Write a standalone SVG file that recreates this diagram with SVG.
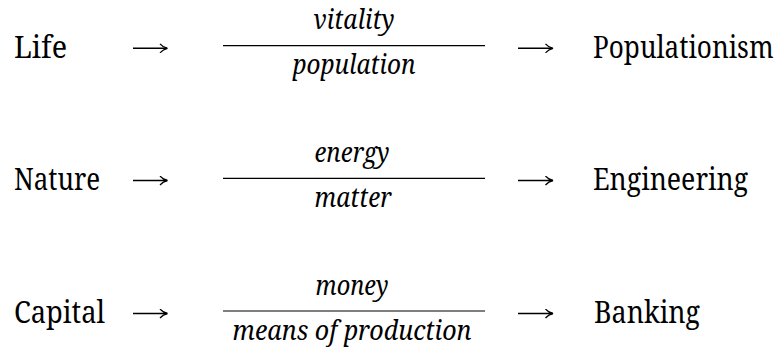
<svg xmlns="http://www.w3.org/2000/svg" width="783" height="351" viewBox="0 0 783 351">
<defs>
<marker id="ah" viewBox="0 0 10 10" refX="9" refY="5" markerWidth="10" markerHeight="10" markerUnits="userSpaceOnUse" orient="auto">
<path d="M2,0.5 Q5,4 9.5,5 Q5,6 2,9.5" fill="none" stroke="#000" stroke-width="1.3"/>
</marker>
</defs>
<style>
text{fill:#000;font-family:"Noto Serif","DejaVu Serif",serif;font-size:31px}
.i{font-style:italic;text-anchor:middle;font-size:28px}
.bar{stroke:#000;stroke-width:1.2}
.arr{stroke:#000;stroke-width:1.5;fill:none;marker-end:url(#ah)}
</style>
<rect width="783" height="351" fill="#fff"/>
<g id="row1">
<g id="life"><text x="14" y="57.5" textLength="53" lengthAdjust="spacingAndGlyphs">Life</text></g>
<g id="frac1"><text class="i" x="354" y="29" textLength="81" lengthAdjust="spacingAndGlyphs">vitality</text><line class="bar" x1="223" y1="45.7" x2="485" y2="45.7"/><text class="i" x="354" y="74" textLength="123" lengthAdjust="spacingAndGlyphs">population</text></g>
<g id="populationism"><text transform="translate(593 57.5) scale(0.86 1)" x="0" y="0" textLength="210" lengthAdjust="spacingAndGlyphs">Populationism</text></g>
</g>
<g id="row2">
<g id="nature"><text x="14" y="190" textLength="86" lengthAdjust="spacingAndGlyphs">Nature</text></g>
<g id="frac2"><text class="i" x="352" y="161.5" textLength="75" lengthAdjust="spacingAndGlyphs">energy</text><line class="bar" x1="223" y1="178.3" x2="485" y2="178.3"/><text class="i" x="353" y="206.5" textLength="77" lengthAdjust="spacingAndGlyphs">matter</text></g>
<g id="engineering"><text x="593" y="190" textLength="155" lengthAdjust="spacingAndGlyphs">Engineering</text></g>
</g>
<g id="row3">
<g id="capital"><text x="14" y="322.7" textLength="91" lengthAdjust="spacingAndGlyphs">Capital</text></g>
<g id="frac3"><text class="i" x="352" y="294.5" textLength="73" lengthAdjust="spacingAndGlyphs">money</text><line class="bar" x1="223" y1="311" x2="485" y2="311"/><text class="i" x="352" y="339.5" textLength="239" lengthAdjust="spacingAndGlyphs">means of production</text></g>
<g id="banking"><text x="594" y="322.7" textLength="106" lengthAdjust="spacingAndGlyphs">Banking</text></g>
</g>
<g id="connectors">
<line class="arr" x1="133" y1="48.3" x2="167" y2="48.3"/>
<line class="arr" x1="518" y1="48.3" x2="552.5" y2="48.3"/>
<line class="arr" x1="133" y1="180.5" x2="167" y2="180.5"/>
<line class="arr" x1="518" y1="180.5" x2="552.5" y2="180.5"/>
<line class="arr" x1="133" y1="313.5" x2="167" y2="313.5"/>
<line class="arr" x1="518" y1="313.5" x2="552.5" y2="313.5"/>
</g>
</svg>
